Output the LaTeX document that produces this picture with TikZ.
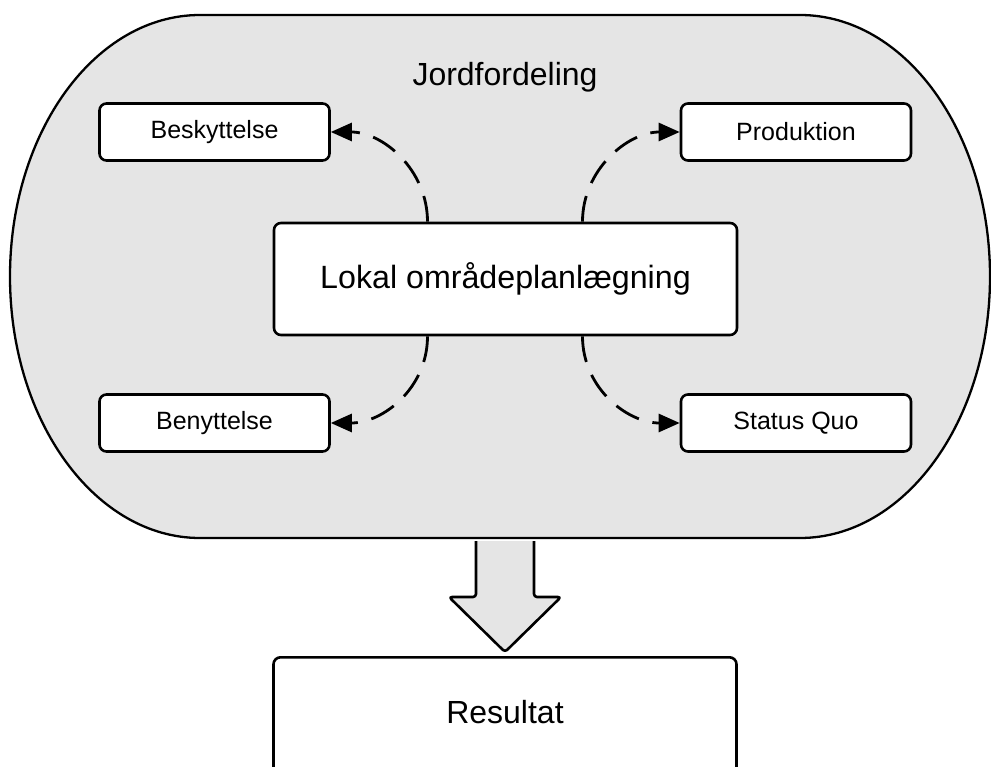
\documentclass[tikz,border=0pt]{standalone}
\usepackage{fontspec}
\setmainfont{Liberation Sans}
\usetikzlibrary{arrows.meta,calc}
\definecolor{shade}{RGB}{229,229,229}
\begin{document}
\begin{tikzpicture}[x=1pt,y=-1pt,
  box/.style={draw, line width=2.6pt, rounded corners=7pt, fill=white, inner sep=0pt},
  smallbox/.style={box, minimum width=230pt, minimum height=57pt, font=\fontsize{25}{30}\selectfont},
  bigfont/.style={font=\fontsize{32}{38}\selectfont},
  dasharr/.style={line width=2.8pt, dash pattern=on 26pt off 14pt, -{Triangle[length=21pt,width=18pt]}},
  stadium/.style={draw, line width=2.3pt, fill=shade},
  blockarrow/.style={draw, line width=2.6pt, fill=shade, rounded corners=3pt, line join=round}
]
\useasboundingbox (0,0) rectangle (991,767);
\clip (0,0) rectangle (991,767);
% block arrow
\draw[blockarrow] (476,541) -- (476,597) -- (449,597) -- (505,652) -- (561,597) -- (534,597) -- (534,541);
% stadium container
\draw[stadium] (200,15) -- (800,15) arc[start angle=90,end angle=-90,x radius=190pt,y radius=261.5pt] -- (200,538) arc[start angle=270,end angle=90,x radius=190pt,y radius=261.5pt] -- cycle;
\node[bigfont] (title) at (505,77) {Jordfordeling};
\node[box, bigfont, minimum width=463pt, minimum height=112pt, font=\fontsize{32.2}{39}\selectfont] (lokal) at (505.5,279) {Lokal områdeplanlægning};
\node[smallbox] (besk) at (214.5,132) {Beskyttelse};
\node[smallbox] (prod) at (796,132) {Produktion};
\node[smallbox] (beny) at (214.5,423) {Benyttelse};
\node[smallbox] (stat) at (796,423) {Status Quo};
\node[box, bigfont, anchor=north, minimum width=463pt, text height=66pt, text depth=60pt] (res) at (505,656) {Resultat};
\coordinate (tl) at ([xshift=-78pt]lokal.north);
\coordinate (tr) at ([xshift=77pt]lokal.north);
\coordinate (bl) at ([xshift=-78pt]lokal.south);
\coordinate (br) at ([xshift=77pt]lokal.south);
\draw[dasharr] (tl) .. controls +(0,-52) and +(52,0) .. (besk.east);
\draw[dasharr] (tr) .. controls +(0,-52) and +(-52,0) .. (prod.west);
\draw[dasharr] (bl) .. controls +(0,52) and +(52,0) .. (beny.east);
\draw[dasharr] (br) .. controls +(0,52) and +(-52,0) .. (stat.west);
\end{tikzpicture}
\end{document}
